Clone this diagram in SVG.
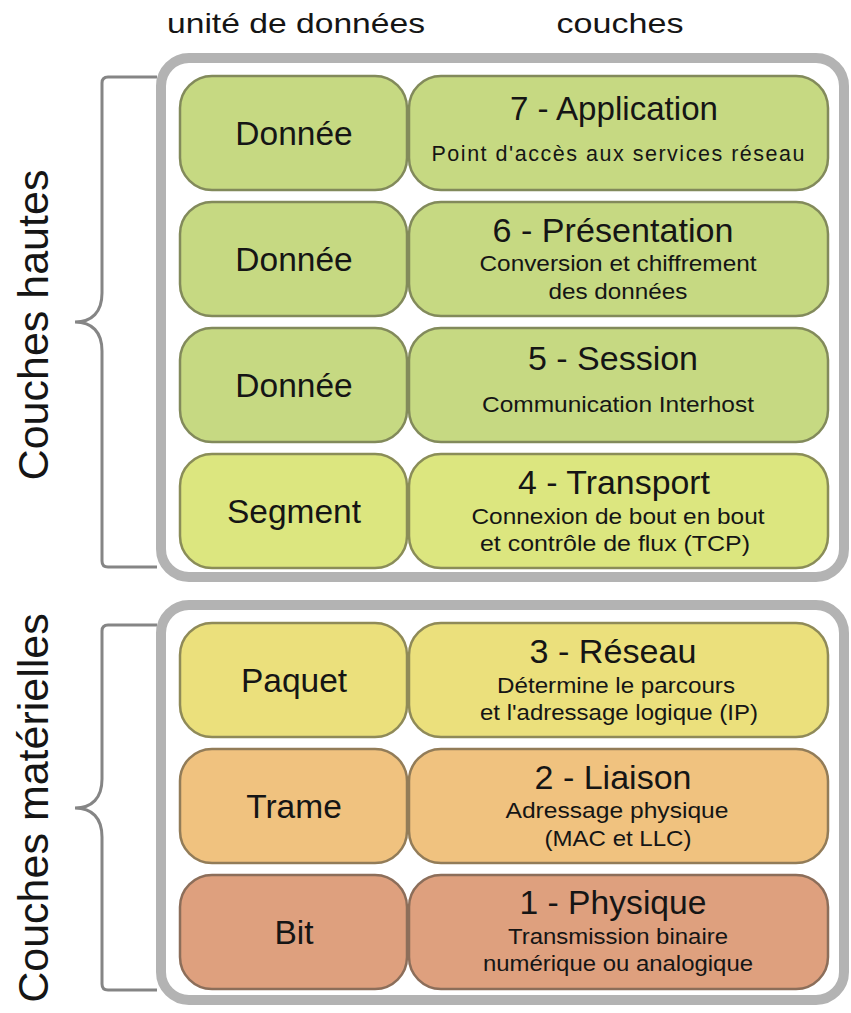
<svg xmlns="http://www.w3.org/2000/svg" width="851" height="1013" viewBox="0 0 851 1013">
<style>
text{font-family:"Liberation Sans",Arial,sans-serif;fill:#151515;text-anchor:middle}
.hdr{font-size:28px}
.side{font-size:43px}
.unit{font-size:33.5px}
.ttl{font-size:33.5px}
.sub{font-size:21.5px}
.frame{fill:#ffffff;stroke:#b3b3b3;stroke-width:10}
.brace{fill:none;stroke:#858585;stroke-width:3}
.g{fill:#c6d982;stroke:#828a5b;stroke-width:2.5}
.yg{fill:#dce67f;stroke:#8a8d58;stroke-width:2.5}
.y{fill:#ebe07c;stroke:#8f8a58;stroke-width:2.5}
.o{fill:#f0c27f;stroke:#927c58;stroke-width:2.5}
.r{fill:#dea07e;stroke:#8c6e5a;stroke-width:2.5}
</style>
<rect width="851" height="1013" fill="#ffffff"/>
<text class="hdr" x="296" y="33" textLength="258" lengthAdjust="spacingAndGlyphs">unité de données</text>
<text class="hdr" x="620" y="33" textLength="127" lengthAdjust="spacingAndGlyphs">couches</text>

<g id="braces">
<path class="brace" d="M157,77 H108 Q102,77 102,83 V293 C102,312 92,322 75,322 C92,322 102,332 102,351 V561 Q102,567 108,567 H157"/>
<path class="brace" d="M157,625 H108 Q102,625 102,631 V779 C102,798 92,808 75,808 C92,808 102,818 102,837 V984 Q102,990 108,990 H157"/>
</g>
<text class="side" transform="translate(48,325) rotate(-90)">Couches hautes</text>
<text class="side" transform="translate(48,808) rotate(-90)">Couches matérielles</text>

<g id="frame-haut"><rect class="frame" x="161" y="58" width="683" height="519" rx="28"/></g>
<g id="frame-bas"><rect class="frame" x="161" y="605" width="683" height="395" rx="28"/></g>

<g id="layer7">
<rect class="g" x="180" y="76" width="227" height="114" rx="32"/>
<rect class="g" x="409" y="76" width="419" height="114" rx="32"/>
<text class="unit" x="294" y="145">Donnée</text>
<text class="ttl" x="614" y="120" textLength="208" lengthAdjust="spacingAndGlyphs">7 - Application</text>
<text class="sub" x="618" y="161" textLength="373" lengthAdjust="spacing">Point d'accès aux services réseau</text>
</g>
<g id="layer6">
<rect class="g" x="180" y="202" width="227" height="114" rx="32"/>
<rect class="g" x="409" y="202" width="419" height="114" rx="32"/>
<text class="unit" x="294" y="271">Donnée</text>
<text class="ttl" x="613" y="242" textLength="241" lengthAdjust="spacingAndGlyphs">6 - Présentation</text>
<text class="sub" x="618" y="271" textLength="277" lengthAdjust="spacingAndGlyphs">Conversion et chiffrement</text>
<text class="sub" x="618" y="299" textLength="139" lengthAdjust="spacingAndGlyphs">des données</text>
</g>
<g id="layer5">
<rect class="g" x="180" y="328" width="227" height="114" rx="32"/>
<rect class="g" x="409" y="328" width="419" height="114" rx="32"/>
<text class="unit" x="294" y="397">Donnée</text>
<text class="ttl" x="613" y="370" textLength="170" lengthAdjust="spacingAndGlyphs">5 - Session</text>
<text class="sub" x="618" y="412" textLength="272" lengthAdjust="spacingAndGlyphs">Communication Interhost</text>
</g>
<g id="layer4">
<rect class="yg" x="180" y="454" width="227" height="114" rx="32"/>
<rect class="yg" x="409" y="454" width="419" height="114" rx="32"/>
<text class="unit" x="294" y="523">Segment</text>
<text class="ttl" x="614" y="494" textLength="192" lengthAdjust="spacingAndGlyphs">4 - Transport</text>
<text class="sub" x="618" y="524" textLength="293" lengthAdjust="spacingAndGlyphs">Connexion de bout en bout</text>
<text class="sub" x="615" y="551" textLength="270" lengthAdjust="spacingAndGlyphs">et contrôle de flux (TCP)</text>
</g>
<g id="layer3">
<rect class="y" x="180" y="623" width="227" height="114" rx="32"/>
<rect class="y" x="409" y="623" width="419" height="114" rx="32"/>
<text class="unit" x="294" y="692">Paquet</text>
<text class="ttl" x="613" y="663" textLength="167" lengthAdjust="spacingAndGlyphs">3 - Réseau</text>
<text class="sub" x="616" y="693" textLength="238" lengthAdjust="spacingAndGlyphs">Détermine le parcours</text>
<text class="sub" x="619" y="720" textLength="278" lengthAdjust="spacingAndGlyphs">et l'adressage logique (IP)</text>
</g>
<g id="layer2">
<rect class="o" x="180" y="749" width="227" height="114" rx="32"/>
<rect class="o" x="409" y="749" width="419" height="114" rx="32"/>
<text class="unit" x="294" y="818">Trame</text>
<text class="ttl" x="613" y="789" textLength="157" lengthAdjust="spacingAndGlyphs">2 - Liaison</text>
<text class="sub" x="617" y="818" textLength="223" lengthAdjust="spacingAndGlyphs">Adressage physique</text>
<text class="sub" x="618" y="846" textLength="147" lengthAdjust="spacingAndGlyphs">(MAC et LLC)</text>
</g>
<g id="layer1">
<rect class="r" x="180" y="875" width="227" height="114" rx="32"/>
<rect class="r" x="409" y="875" width="419" height="114" rx="32"/>
<text class="unit" x="294" y="944">Bit</text>
<text class="ttl" x="613" y="914" textLength="187" lengthAdjust="spacingAndGlyphs">1 - Physique</text>
<text class="sub" x="618" y="944" textLength="220" lengthAdjust="spacingAndGlyphs">Transmission binaire</text>
<text class="sub" x="618" y="971" textLength="270" lengthAdjust="spacingAndGlyphs">numérique ou analogique</text>
</g>
</svg>
